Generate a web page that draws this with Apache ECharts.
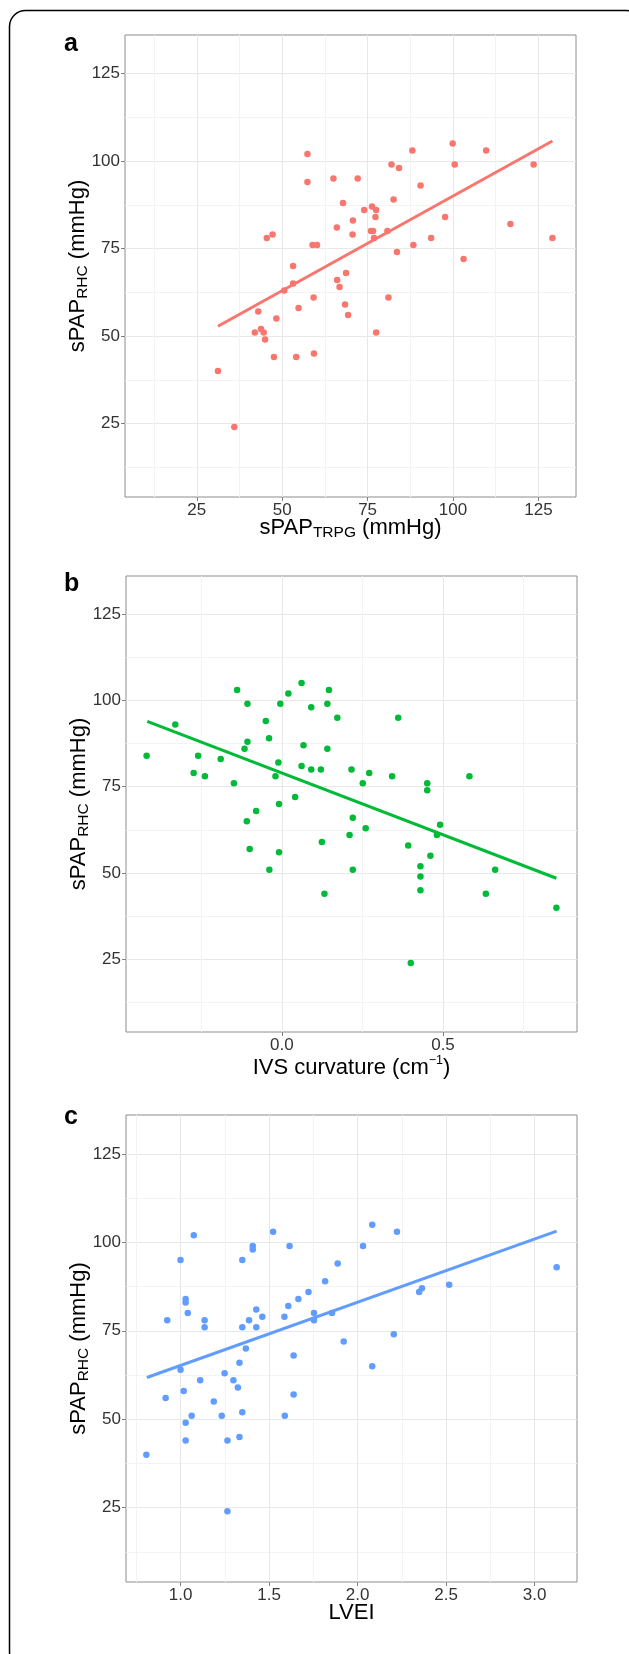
<!DOCTYPE html>
<html>
<head>
<meta charset="utf-8">
<script src="https://cdn.jsdelivr.net/npm/echarts@6/dist/echarts.min.js"></script>
<style>
    html, body { margin: 0; padding: 0; background: #ffffff; }
    #main { width: 629px; height: 1654px; }
</style>
</head>
<body>
<div id="main"></div>
<script>
// panel a : sPAP(TRPG) vs sPAP(RHC)
const xA = [31.2, 36.0, 42.0, 43.0, 43.8, 44.6, 45.0, 45.5, 47.2, 47.6, 48.3, 50.6, 53.2, 53.2, 54.1, 54.8,
    57.4, 57.4, 58.9, 60.2, 59.2, 59.3, 65.0, 66.0, 66.1, 66.8, 67.8, 68.7, 68.4, 69.3, 70.7, 70.6, 72.1,
    74.0, 76.0, 76.6, 76.3, 77.5, 77.3, 76.9, 77.5, 80.8, 81.1, 82.0, 82.6, 83.6, 84.2, 88.1, 88.4, 90.5,
    93.6, 97.7, 99.9, 100.5, 103.1, 109.7, 116.8, 123.6, 129.1];
const yA = [40, 24, 51, 57, 52, 51, 49, 78, 79, 44, 55, 63, 70, 65, 44, 58,
    102, 94, 76, 76, 61, 45, 95, 81, 66, 64, 88, 68, 59, 56, 83, 79, 95,
    86, 80, 80, 87, 86, 84, 78, 51, 80, 61, 99, 89, 74, 98, 103, 76, 93,
    78, 84, 105, 99, 72, 103, 82, 99, 78];
const fitAx = [31.2, 129.1];
const fitAy = [52.8, 105.7];

// panel b : IVS curvature vs sPAP(RHC)
const xB = [-0.420, -0.331, -0.274, -0.260, -0.239, -0.190, -0.149, -0.139, -0.116, -0.109, -0.107, -0.107,
    -0.100, -0.080, -0.050, -0.040, -0.039, -0.020, -0.011, -0.009, -0.009, -0.005, 0.020, 0.041, 0.061,
    0.061, 0.067, 0.091, 0.091, 0.121, 0.124, 0.132, 0.141, 0.141, 0.146, 0.172, 0.210, 0.216, 0.220,
    0.220, 0.251, 0.260, 0.271, 0.342, 0.361, 0.392, 0.400, 0.430, 0.430, 0.430, 0.451, 0.451, 0.461,
    0.481, 0.491, 0.582, 0.633, 0.662, 0.852];
const yB = [84, 93, 79, 84, 78, 83, 76, 103, 86, 65, 99, 88,
    57, 68, 94, 89, 51, 78, 82, 70, 56, 99, 102, 72, 105,
    81, 87, 98, 80, 80, 59, 44, 99, 86, 103, 95, 61, 80, 66,
    51, 76, 63, 79, 78, 95, 58, 24, 52, 49, 45, 76, 74, 55,
    61, 64, 78, 44, 51, 40];
const fitBx = [-0.418, 0.852];
const fitBy = [93.9, 48.5];

// panel c : LVEI vs sPAP(RHC)
const xC = [0.807, 0.916, 0.925, 1.000, 1.000, 1.018, 1.029, 1.029, 1.041, 1.029, 1.029, 1.063, 1.075,
    1.111, 1.136, 1.136, 1.188, 1.233, 1.249, 1.265, 1.265, 1.299, 1.324, 1.333, 1.333, 1.349, 1.349,
    1.349, 1.369, 1.387, 1.408, 1.408, 1.428, 1.428, 1.462, 1.523, 1.587, 1.589, 1.609, 1.616, 1.639,
    1.639, 1.666, 1.723, 1.754, 1.754, 1.817, 1.856, 1.888, 1.922, 2.031, 2.083, 2.083, 2.205, 2.223,
    2.348, 2.364, 2.518, 3.125];
const yC = [40, 56, 78, 95, 64, 58, 84, 83, 80, 49, 44, 51, 102,
    61, 78, 76, 55, 51, 63, 44, 24, 61, 59, 66, 45, 95, 76,
    52, 70, 78, 99, 98, 81, 76, 79, 103, 79, 51, 82, 99, 68,
    57, 84, 86, 80, 78, 89, 80, 94, 72, 99, 105, 65, 74, 103,
    86, 87, 88, 93];
const fitCx = [0.81, 3.125];
const fitCy = [61.8, 103.2];

// ticks
const yMajor = [25, 50, 75, 100, 125];
const yMinor = [12.5, 37.5, 62.5, 87.5, 112.5];
const xMajorA = [25, 50, 75, 100, 125];
const xMinorA = [12.5, 37.5, 62.5, 87.5, 112.5];
const xMajorB = [0, 0.5];
const xMinorB = [-0.25, 0.25, 0.75];
const xMajorC = [1.0, 1.5, 2.0, 2.5, 3.0];
const xMinorC = [0.75, 1.25, 1.75, 2.25, 2.75];

const FONT = 'Liberation Sans, Arial, sans-serif';
const colors = ['#F8766D', '#00BA38', '#619CFF'];

function pairs(xs, ys) {
    return xs.map(function (x, i) { return [x, ys[i]]; });
}

// rich styles for axis titles (subscript / superscript)
const titleRich = {
    m: { fontFamily: FONT, fontSize: 22, color: '#000', lineHeight: 27 },
    s: { fontFamily: FONT, fontSize: 15.5, color: '#000', lineHeight: 15, verticalAlign: 'bottom' },
    p: { fontFamily: FONT, fontSize: 12.5, color: '#000', lineHeight: 12, verticalAlign: 'top' }
};

function majorAxis(grid, pos, min, max, ticks, fmt, name, gap) {
    return {
        type: 'value', gridIndex: grid, position: pos, min: min, max: max,
        axisLine: { show: false, onZero: false },
        axisTick: { show: true, customValues: ticks, length: 4, lineStyle: { color: '#808080', width: 1 } },
        axisLabel: { customValues: ticks, formatter: fmt, color: '#333333', fontSize: 17, fontFamily: FONT, margin: 5 },
        splitLine: { show: true, lineStyle: { color: '#e8e8e8', width: 1 } },
        name: name, nameLocation: 'middle', nameGap: gap, nameMoveOverlap: false,
        nameTextStyle: { rich: titleRich }
    };
}

function minorAxis(grid, pos, min, max, ticks) {
    return {
        type: 'value', gridIndex: grid, position: pos, min: min, max: max,
        axisLine: { show: false, onZero: false },
        axisTick: { show: false, customValues: ticks },
        axisLabel: { show: false, customValues: ticks },
        splitLine: { show: true, lineStyle: { color: '#f3f3f3', width: 1 } }
    };
}

const fmtInt = function (v) { return String(v); };
const fmt1 = function (v) { return v.toFixed(1); };

const yName = '{m|sPAP}{s|RHC}{m| (mmHg)}';

const grids = [
    { left: 125, top: 35, width: 451, height: 462 },
    { left: 126, top: 576, width: 451, height: 456 },
    { left: 126, top: 1115, width: 451, height: 467 }
];

var chart = echarts.init(document.getElementById('main'));

var option = {
    animation: false,
    backgroundColor: '#ffffff',
    grid: grids.map(function (g) {
        return Object.assign({ show: true, borderColor: '#8c8c8c', borderWidth: 1, backgroundColor: 'transparent', outerBoundsMode: 'none' }, g);
    }),
    xAxis: [
        minorAxis(0, 'bottom', 4, 136, xMinorA),
        majorAxis(0, 'bottom', 4, 136, xMajorA, fmtInt, '{m|sPAP}{s|TRPG}{m| (mmHg)}', 17),
        minorAxis(1, 'bottom', -0.484, 0.916, xMinorB),
        majorAxis(1, 'bottom', -0.484, 0.916, xMajorB, fmt1, '{m|IVS curvature (cm}{p|−1}{m|)}', 22),
        minorAxis(2, 'bottom', 0.692, 3.24, xMinorC),
        majorAxis(2, 'bottom', 0.692, 3.24, xMajorC, fmt1, '{m|LVEI}', 17)
    ],
    yAxis: [
        minorAxis(0, 'left', 4, 136, yMinor),
        majorAxis(0, 'left', 4, 136, yMajor, fmtInt, yName, 34),
        minorAxis(1, 'left', 4, 136, yMinor),
        majorAxis(1, 'left', 4, 136, yMajor, fmtInt, yName, 34),
        minorAxis(2, 'left', 4, 136, yMinor),
        majorAxis(2, 'left', 4, 136, yMajor, fmtInt, yName, 34)
    ],
    graphic: [
        // outer rounded frame
        {
            type: 'rect', silent: true,
            shape: { x: 9.5, y: 10.5, width: 633, height: 1657, r: 16 },
            style: { fill: 'none', stroke: '#000', lineWidth: 1.5 }
        },
        { type: 'text', x: 64, y: 44, style: { text: 'a', font: 'bold 25px ' + FONT, fill: '#000', verticalAlign: 'middle' } },
        { type: 'text', x: 64, y: 584, style: { text: 'b', font: 'bold 25px ' + FONT, fill: '#000', verticalAlign: 'middle' } },
        { type: 'text', x: 64, y: 1117, style: { text: 'c', font: 'bold 25px ' + FONT, fill: '#000', verticalAlign: 'middle' } }
    ],
    series: []
};

// points + fitted lines for each panel
const panels = [
    { pts: pairs(xA, yA), fit: pairs(fitAx, fitAy) },
    { pts: pairs(xB, yB), fit: pairs(fitBx, fitBy) },
    { pts: pairs(xC, yC), fit: pairs(fitCx, fitCy) }
];

panels.forEach(function (p, i) {
    option.series.push({
        type: 'scatter', xAxisIndex: 2 * i + 1, yAxisIndex: 2 * i + 1,
        data: p.pts, symbolSize: 6.5,
        itemStyle: { color: colors[i], opacity: 1 }
    });
    option.series.push({
        type: 'line', xAxisIndex: 2 * i + 1, yAxisIndex: 2 * i + 1,
        data: p.fit, showSymbol: false, symbol: 'none',
        lineStyle: { color: colors[i], width: 3 }
    });
});

chart.setOption(option);
</script>
</body>
</html>
